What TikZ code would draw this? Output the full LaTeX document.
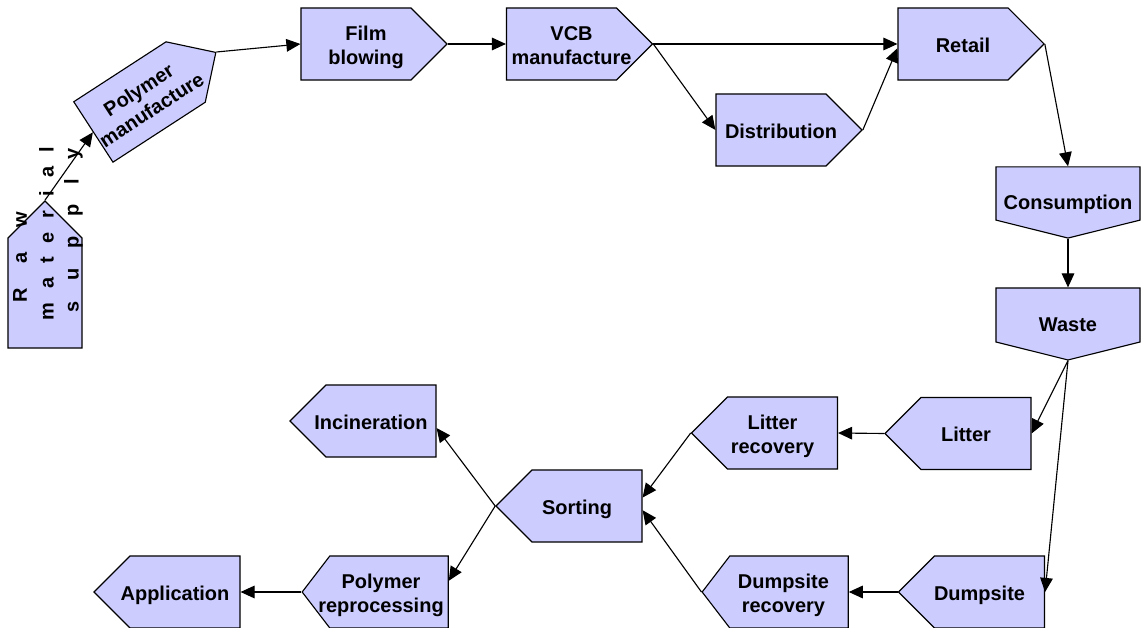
\documentclass[tikz,border=0pt]{standalone}
\usepackage{fontspec}
\setmainfont{Liberation Sans}
\usetikzlibrary{shapes.symbols,arrows.meta}

\definecolor{stagefill}{RGB}{204,204,255}

% text pushed a little towards the point of the box
\newcommand{\tipE}[2][0.5cm]{\raisebox{-6pt}[0pt][0pt]{\makebox[0pt]{\kern#1\begin{tabular}{@{}c@{}}#2\end{tabular}}}}
\newcommand{\tipW}[2][0.5cm]{\raisebox{-6pt}[0pt][0pt]{\makebox[0pt]{\kern-#1\begin{tabular}{@{}c@{}}#2\end{tabular}}}}
\newcommand{\tipS}[1]{\raisebox{-11.5pt}[0pt][0pt]{\makebox[0pt]{#1}}}

\tikzset{
  stage/.style={signal, draw=black, fill=stagefill, line width=0.8pt,
    inner sep=0pt, minimum width=3.65cm, minimum height=1.8cm,
    font=\fontsize{14.2}{17}\selectfont\bfseries},
  flow/.style={-{Triangle[length=10pt,width=9pt]}, line width=0.8pt},
  spread/.style={rotate=90, inner sep=0pt,
    font=\fontsize{14.2}{17}\selectfont\bfseries}
}

\begin{document}
\begin{tikzpicture}[x=0.025cm, y=-0.025cm]
    \useasboundingbox (0,0) rectangle (1141,628);

    % upper chain
    \node[stage, signal to=north, minimum width=1.85cm, minimum height=2.75cm] (raw) at (45,293) {};
    \node[spread] (rawA) at (20,257) {\makebox[2.25cm][s]{R a w}};
    \node[spread] (rawB) at (46.5,233.5) {\makebox[4.33cm][s]{m a t e r i a l}};
    \node[spread] (rawC) at (73.5,230) {\makebox[4.1cm][s]{s u p p l y}};
    \node[stage, signal to=east, rotate=33] (poly) at (139.5,102) {\tipE[0.3cm]{Polymer\\manufacture}};
    \node[stage, signal to=east] (film) at (356,44) {\tipE{Film\\blowing}};
    \node[stage, signal to=east] (vcb) at (561.5,44) {\tipE{VCB\\manufacture}};
    \node[stage, signal to=east] (distrib) at (771,130) {\tipE{Distribution}};
    \node[stage, signal to=east] (retail) at (953,44) {\tipE{Retail}};

    % consumption and waste
    \node[stage, signal to=south, signal pointer angle=152, minimum width=3.6cm, minimum height=1.33cm] (consump) at (1068,193.5) {\tipS{Consumption}};
    \node[stage, signal to=south, signal pointer angle=152, minimum width=3.6cm, minimum height=1.35cm] (waste) at (1068,315) {\tipS{Waste}};

    % lower chain
    \node[stage, signal to=west] (litter) at (976,433.5) {\tipW{Litter}};
    \node[stage, signal to=west] (litrec) at (782.5,433) {\tipW{Litter\\recovery}};
    \node[stage, signal to=west] (dump) at (989.5,592) {\tipW{Dumpsite}};
    \node[stage, signal to=west, signal pointer angle=105] (dumprec) at (789,592) {\tipW[0.28cm]{Dumpsite\\recovery}};
    \node[stage, signal to=west] (sorting) at (587,506) {\tipW{Sorting}};
    \node[stage, signal to=west] (incin) at (381,421) {\tipW{Incineration}};
    \node[stage, signal to=west, signal pointer angle=105] (reproc) at (389,592) {\tipW[0.4cm]{Polymer\\reprocessing}};
    \node[stage, signal to=west] (appl) at (185,592) {\tipW{Application}};

    \draw[flow] (raw.north) -- (poly.west);
    \draw[flow] (poly.east) -- (film.west);
    \draw[flow] (film.east) -- (vcb.west);
    \draw[flow] (vcb.east) -- (retail.west);
    \draw[flow] (vcb.east) -- (distrib.west);
    \draw[flow] (distrib.east) -- ([yshift=-3pt]retail.west);
    \draw[flow] (retail.east) -- (consump.north);
    \draw[flow] (consump.south) -- (waste.north);
    \draw[flow] (waste.south) -- (litter.east);
    \draw[flow] (waste.south) -- (dump.east);
    \draw[flow] (litter.west) -- (litrec.east);
    \draw[flow] (dump.west) -- (dumprec.east);
    \draw[flow] (litrec.west) -- ([yshift=6pt]sorting.east);
    \draw[flow] (dumprec.west) -- ([yshift=-3pt]sorting.east);
    \draw[flow] (sorting.west) -- ([yshift=-5pt]incin.east);
    \draw[flow] (sorting.west) -- ([yshift=8pt]reproc.east);
    \draw[flow] (reproc.west) -- (appl.east);
\end{tikzpicture}
\end{document}
